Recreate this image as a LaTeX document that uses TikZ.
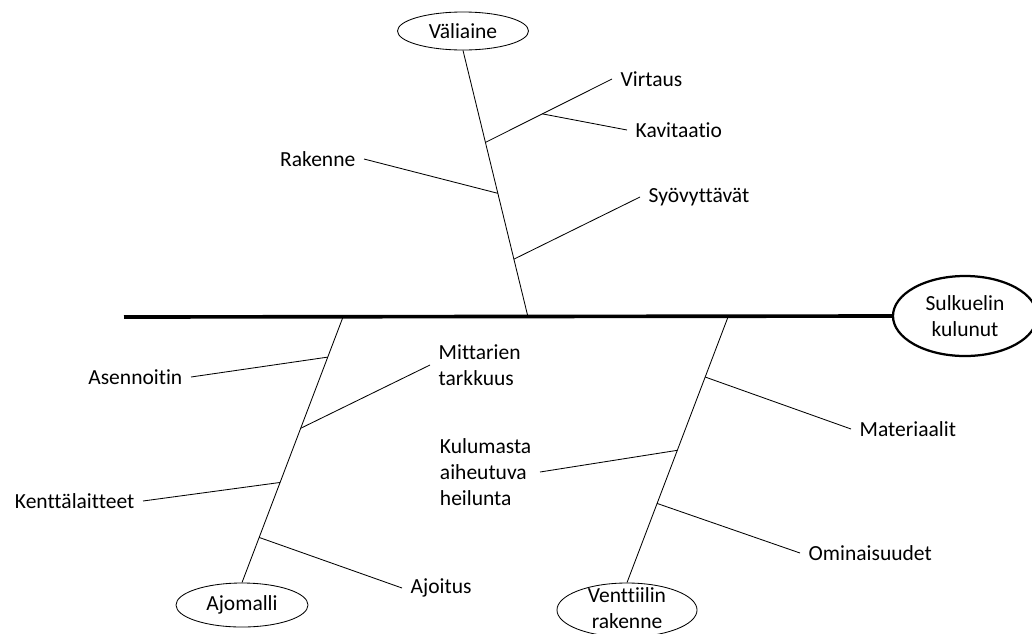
\documentclass[tikz,border=0pt]{standalone}
\usepackage{fontspec}
\setmainfont{Carlito}[Ligatures=NoCommon]
\usetikzlibrary{shapes.geometric, calc}
\newcommand{\fnt}{\fontsize{15.3}{18.5}\selectfont}

\begin{document}
\begin{tikzpicture}[x=0.025cm, y=-0.025cm,
            cause/.style ={ellipse, draw, line width=0.6pt, inner sep=0pt, font=\fnt, align=center},
            effect/.style={ellipse, draw, line width=1.6pt, inner sep=0pt, font=\fnt, align=center,
                           minimum width=3.6cm, minimum height=2cm},
            lbl/.style   ={font=\fnt, inner xsep=6pt, inner ysep=2pt, align=left},
            bone/.style  ={line width=0.6pt},
            spine/.style ={line width=2.6pt}
        ]
            \clip (0,0) rectangle (1032,633);

            % --- Seuraus ja paaruoto ---
            \node[effect] (sulkuelin) at (965,316) {Sulkuelin\\kulunut};
            \coordinate (tail) at (124,317);
            \draw[spine] (tail) -- (sulkuelin.west);

            % --- Paakategoriat ---
            \node[cause, minimum width=3.275cm, minimum height=0.95cm] (valiaine) at (463,31) {Väliaine};
            \node[cause, minimum width=3.3cm, minimum height=1.1cm]   (ajomalli) at (242,605) {Ajomalli};
            \node[cause, minimum width=3.5cm, minimum height=1.35cm]  (venttiilin) at (627,610) {};
            \node[font=\fnt, align=center] (venttiilinTxt) at (627,608) {Venttiilin\\rakenne};

            \coordinate (valiaineEnd) at (528,317);
            \coordinate (ajomalliEnd) at (343,317);
            \coordinate (venttiilinEnd) at (728,317);

            \draw[bone] (valiaine.south) -- (valiaineEnd);
            \draw[bone] (ajomalliEnd) -- (ajomalli.north);
            \draw[bone] (venttiilinEnd) -- (venttiilin.north);

            % --- Valiaine ---
            \coordinate (v1) at ($(valiaine.south)!0.345!(valiaineEnd)$);
            \coordinate (v2) at ($(valiaine.south)!0.536!(valiaineEnd)$);
            \coordinate (v3) at ($(valiaine.south)!0.783!(valiaineEnd)$);

            \node[lbl, anchor=west] (virtaus)    at (612,79)  {Virtaus};
            \node[lbl, anchor=west] (kavitaatio) at (627,130) {Kavitaatio};
            \node[lbl, anchor=east] (rakenne)    at (364,159) {Rakenne};
            \node[lbl, anchor=west] (syovyttavat) at (640,197) {Syövyttävät};

            \draw[bone] (v1) -- (virtaus.west);
            \coordinate (v1b) at ($(v1)!0.45!(virtaus.west)$);
            \draw[bone] (v1b) -- (kavitaatio.west);
            \draw[bone] (rakenne.east) -- (v2);
            \draw[bone] (v3) -- (syovyttavat.west);

            % --- Ajomalli ---
            \coordinate (a1) at ($(ajomalliEnd)!0.151!(ajomalli.north)$);
            \coordinate (a2) at ($(ajomalliEnd)!0.419!(ajomalli.north)$);
            \coordinate (a3) at ($(ajomalliEnd)!0.623!(ajomalli.north)$);
            \coordinate (a4) at ($(ajomalliEnd)!0.830!(ajomalli.north)$);

            \node[lbl, anchor=east] (asennoitin) at (191,377) {Asennoitin};
            \node[lbl, anchor=west] (mittarien)  at (430,365) {Mittarien\\tarkkuus};
            \node[lbl, anchor=east] (kentta)     at (143,501) {Kenttälaitteet};
            \node[lbl, anchor=west] (ajoitus)    at (402,588) {Ajoitus};

            \draw[bone] (asennoitin.east) -- (a1);
            \draw[bone] (a2) -- (mittarien.west);
            \draw[bone] (kentta.east) -- (a3);
            \draw[bone] (a4) -- (ajoitus.west);

            % --- Venttiilin rakenne ---
            \coordinate (r1) at ($(venttiilinEnd)!0.226!(venttiilin.north)$);
            \coordinate (r2) at ($(venttiilinEnd)!0.502!(venttiilin.north)$);
            \coordinate (r3) at ($(venttiilinEnd)!0.702!(venttiilin.north)$);

            \node[lbl, anchor=west] (materiaalit)  at (851,429) {Materiaalit};
            \node[lbl, anchor=east] (kulumasta)    at (540,472) {Kulumasta\\aiheutuva\\heilunta};
            \node[lbl, anchor=west] (ominaisuudet) at (800,553) {Ominaisuudet};

            \draw[bone] (r1) -- (materiaalit.west);
            \draw[bone] (kulumasta.east) -- (r2);
            \draw[bone] (r3) -- (ominaisuudet.west);
        \end{tikzpicture}
\end{document}
